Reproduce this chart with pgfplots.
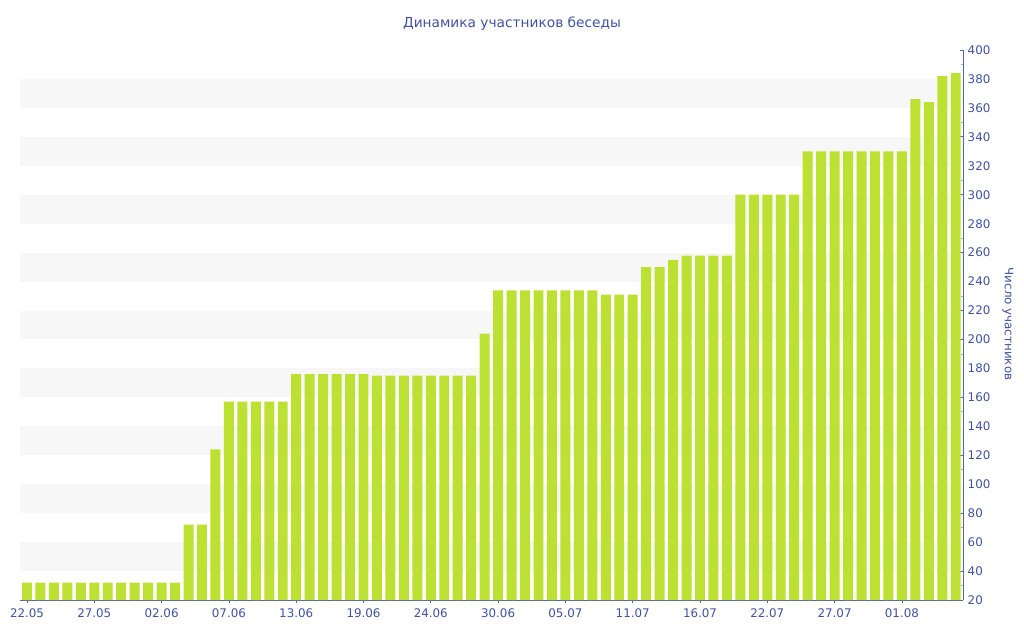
\documentclass[border=0pt]{standalone}
\usepackage{fontspec}
\setmainfont{DejaVu Sans}
\usepackage{pgfplots}
\pgfplotsset{compat=1.18}
\definecolor{bargreen}{HTML}{BDE132}
\definecolor{txtblue}{HTML}{4052A0}
\definecolor{axisblue}{HTML}{5566A8}
\definecolor{band}{HTML}{F7F7F7}
\definecolor{minortick}{HTML}{A8AECB}
\begin{document}
\begin{tikzpicture}[x=1pt,y=1pt]
\path[use as bounding box] (0,0) rectangle (768,480);
\begin{axis}[
  at={(15pt,30pt)}, anchor=south west,
  scale only axis, width=707.25pt, height=412.5pt,
  xmin=-0.52, xmax=69.54, ymin=20, ymax=400,
  axis x line*=bottom, axis y line*=right,
  axis line style={axisblue, line width=0.75pt},
  xtick={0,5,...,65},
  xticklabels={22.05,27.05,02.06,07.06,13.06,19.06,24.06,30.06,05.07,11.07,16.07,22.07,27.07,01.08},
  ytick={20,40,...,400},
  minor y tick num=1,
  x tick style={axisblue, line width=0.6pt},
  y tick style={axisblue, line width=0.6pt},
  minor y tick style={minortick, line width=0.6pt},
  xtick align=outside, ytick align=inside,
  major tick length=2.5pt, minor tick length=1.6pt,
  tick label style={font=\fontsize{8.9pt}{10pt}\selectfont, text=txtblue},
  /pgf/number format/assume math mode=true,
  yticklabel style={anchor=west, xshift=0pt},
  xticklabel style={yshift=-0.5pt},
  clip=true,
  ybar, bar width=0.74,
]
\pgfplotsinvokeforeach{40,80,...,360}{
  \fill[band] (axis cs:-0.52,#1) rectangle (axis cs:69.54,#1+20);
}
\addplot[fill=bargreen, draw=none] coordinates {
(0,32) (1,32) (2,32) (3,32) (4,32) (5,32) (6,32) (7,32) (8,32) (9,32) (10,32) (11,32)
(12,72) (13,72) (14,124)
(15,157) (16,157) (17,157) (18,157) (19,157)
(20,176) (21,176) (22,176) (23,176) (24,176) (25,176)
(26,175) (27,175) (28,175) (29,175) (30,175) (31,175) (32,175) (33,175)
(34,204)
(35,234) (36,234) (37,234) (38,234) (39,234) (40,234) (41,234) (42,234)
(43,231) (44,231) (45,231)
(46,250) (47,250) (48,255)
(49,258) (50,258) (51,258) (52,258)
(53,300) (54,300) (55,300) (56,300) (57,300)
(58,330) (59,330) (60,330) (61,330) (62,330) (63,330) (64,330) (65,330)
(66,366) (67,364) (68,382) (69,384)
};
\end{axis}
\node[text=txtblue, font=\fontsize{10.3pt}{12pt}\selectfont] at (384,462.5) {Динамика участников беседы};
\node[text=txtblue, font=\fontsize{8.9pt}{10pt}\selectfont, rotate=-90] at (756,237) {Число участников};
\end{tikzpicture}
\end{document}
